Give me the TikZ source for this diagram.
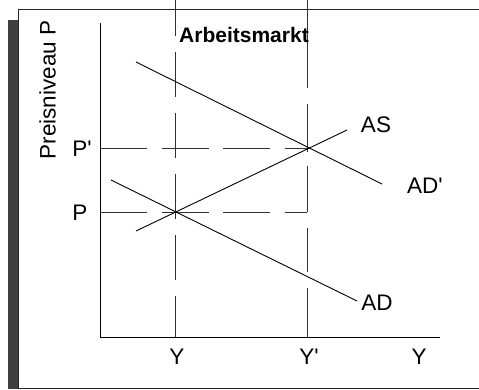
\documentclass[tikz,border=0pt]{standalone}
\usepackage{fontspec}
\setmainfont{Liberation Sans}
\definecolor{barcol}{HTML}{404040}
\definecolor{dashcol}{HTML}{303030}
\tikzset{
  px/.style={x=1pt,y=-1pt},
  curve/.style={line width=0.9pt,black},
  axis/.style={line width=1pt,black},
  frame/.style={line width=1pt,black!85},
  guide/.style={line width=1pt,dashcol},
  lbl/.style={inner sep=0pt,font=\fontsize{22.5}{26}\selectfont},
  ttl/.style={inner sep=0pt,font=\fontsize{21}{25}\selectfont\bfseries}
}
\begin{document}
\begin{tikzpicture}[px]
\useasboundingbox (0,0) rectangle (479,389);
% frame and dark side bar
\fill[barcol] (8,20) rectangle (18,389);
\coordinate (ftr) at (479,9);
\coordinate (ftl) at (18,9);
\coordinate (fbl) at (18,388);
\coordinate (fbr) at (479,388);
\draw[frame] (ftr) -- (ftl) -- (fbl) -- (fbr);
% axes
\coordinate (ytop) at (100,23);
\coordinate (orig) at (100,337);
\coordinate (xend) at (440,337);
\draw[axis] (ytop) -- (orig) -- (xend);
% key points
\coordinate (E0) at (175,212);
\coordinate (E1) at (307,148);
\coordinate (Ytop) at (175,0);
\coordinate (Yax) at (175,337);
\coordinate (Yptop) at (307,0);
\coordinate (Ypax) at (307,337);
\coordinate (Ypmid) at (307,212);
\coordinate (Pax) at (100,212);
\coordinate (Ppax) at (100,148);
% dashed guides
\draw[guide,dash pattern=on 45pt off 16pt,dash phase=9pt] (Ytop) -- (Yax);
\draw[guide,dash pattern=on 46pt off 14pt on 48pt off 16pt on 120pt off 0pt] (Ypmid) -- (Yptop);
\draw[guide,dash pattern=on 49pt off 16pt on 44pt off 16pt] (Ypax) -- (Ypmid);
\draw[guide,dash pattern=on 47pt off 14.5pt] (Pax) -- (Ypmid);
\draw[guide,dash pattern=on 47pt off 14.5pt] (Ppax) -- (E1);
% curves
\coordinate (ADa) at (111,180);
\coordinate (ADb) at (357,301);
\coordinate (ADpa) at (136,62);
\coordinate (ADpb) at (382,184);
\coordinate (ASa) at (136,231);
\coordinate (ASb) at (347,130);
\draw[curve] (ADa) -- (ADb);
\draw[curve] (ADpa) -- (ADpb);
\draw[curve] (ASa) -- (ASb);
% labels
\node[lbl] (lAS) at (376,125) {AS};
\node[lbl] (lADp) at (425,186) {AD\textquotesingle};
\node[lbl] (lAD) at (377,303) {AD};
\node[lbl] (lPp) at (82,149) {P\textquotesingle};
\node[lbl] (lP) at (80,213) {P};
\node[lbl] (lY) at (177,357) {Y};
\node[lbl] (lYp) at (309,357) {Y\textquotesingle};
\node[lbl] (lYax) at (419,357) {Y};
\node[lbl,rotate=90] (lPreis) at (47.5,90) {Preisniveau P};
\node[ttl] (title) at (244,35) {Arbeitsmarkt};
\end{tikzpicture}
\end{document}
